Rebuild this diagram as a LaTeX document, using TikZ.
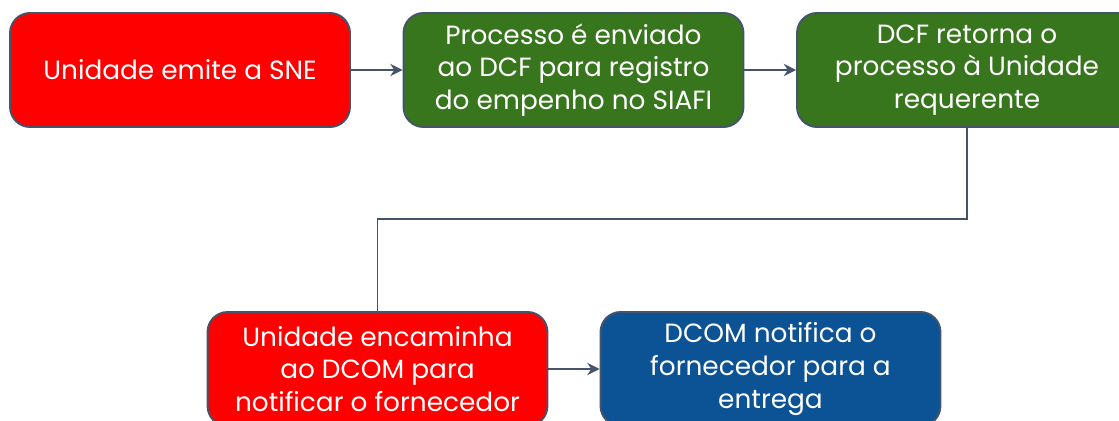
\documentclass[tikz,border=0pt]{standalone}
\usepackage{fontspec}
\setmainfont{Poppins}
\usepackage{xcolor}
\usepackage{tikz}
\usetikzlibrary{positioning, arrows.meta}

\definecolor{boxred}{HTML}{FF0000}
\definecolor{boxgreen}{HTML}{38761D}
\definecolor{boxblue}{HTML}{0B5394}
\definecolor{edgegray}{HTML}{44546A}

\begin{document}
\begin{tikzpicture}[x=0.02cm, y=-0.02cm,
  etapa/.style={draw=edgegray, line width=1.1pt, rounded corners=0.4cm,
    minimum width=6.8cm, minimum height=2.28cm, align=center,
    text=white, font=\fontsize{15}{18.6}\selectfont},
  seta/.style={draw=edgegray, line width=1.1pt, -{Stealth[length=7pt, width=7pt]}},
  liga/.style={draw=edgegray, line width=1.1pt}]
  \path[use as bounding box, clip] (0,0) rectangle (1119,420);

  % Top row
  \node (Emite) [etapa, fill=boxred] at (180,70) {Unidade emite a SNE};
  \node (Registro) [etapa, fill=boxgreen] at (573.5,70) {Processo é enviado\\ao DCF para registro\\do empenho no SIAFI};
  \node (Retorna) [etapa, fill=boxgreen] at (967,70) {DCF retorna o\\processo à Unidade\\requerente};

  % Bottom row
  \node (Encaminha) [etapa, fill=boxred] at (377.5,369) {Unidade encaminha\\ao DCOM para\\notificar o fornecedor};
  \node (Notifica) [etapa, fill=boxblue] at (770.5,369) {DCOM notifica o\\fornecedor para a\\entrega};

  % Arrows along the top row
  \draw[seta] (Emite) -- (Registro);
  \draw[seta] (Registro) -- (Retorna);

  % Elbow from the top row down to the bottom row
  \draw[liga] (Retorna.south) -- ++(0,91) -| (Encaminha.north);

  % Arrow along the bottom row
  \draw[seta] (Encaminha) -- (Notifica);
\end{tikzpicture}
\end{document}
